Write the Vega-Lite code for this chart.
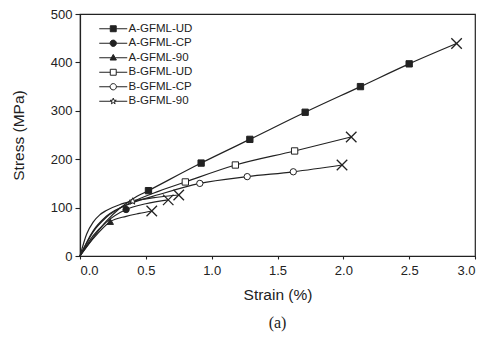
{
  "$schema": "https://vega.github.io/schema/vega-lite/v6.json",
  "width": 395,
  "height": 242,
  "autosize": {"type": "none"},
  "padding": {"left": 80, "top": 14, "right": 16, "bottom": 83},
  "background": "white",
  "config": {
    "view": {"stroke": "#222", "strokeWidth": 1.2},
    "font": "Liberation Sans",
    "axis": {"domainColor": "#222", "tickColor": "#222", "labelColor": "#222", "titleColor": "#222", "grid": false, "labelFontSize": 13, "titleFontSize": 15.5, "titleFontWeight": "normal", "domainWidth": 1.2, "tickWidth": 1.1},
    "legend": {"padding": 0, "rowPadding": 1.5, "labelFontSize": 11.5, "labelColor": "#222", "title": null}
  },
  "title": {"text": "(a)", "orient": "bottom", "font": "Liberation Serif", "fontSize": 16, "fontWeight": "normal", "color": "#222", "offset": 12},
  "datasets": {
    "curves": [
      {"series": "A-GFML-UD", "strain": 0, "stress": 0},
      {"series": "A-GFML-UD", "strain": 0.1, "stress": 38},
      {"series": "A-GFML-UD", "strain": 0.2, "stress": 72},
      {"series": "A-GFML-UD", "strain": 0.3, "stress": 98},
      {"series": "A-GFML-UD", "strain": 0.4, "stress": 118},
      {"series": "A-GFML-UD", "strain": 0.52, "stress": 135},
      {"series": "A-GFML-UD", "strain": 0.92, "stress": 192},
      {"series": "A-GFML-UD", "strain": 1.29, "stress": 241},
      {"series": "A-GFML-UD", "strain": 1.71, "stress": 297},
      {"series": "A-GFML-UD", "strain": 2.13, "stress": 350},
      {"series": "A-GFML-UD", "strain": 2.5, "stress": 397},
      {"series": "A-GFML-UD", "strain": 2.86, "stress": 439},
      {"series": "A-GFML-CP", "strain": 0, "stress": 0},
      {"series": "A-GFML-CP", "strain": 0.1, "stress": 42},
      {"series": "A-GFML-CP", "strain": 0.2, "stress": 70},
      {"series": "A-GFML-CP", "strain": 0.35, "stress": 96},
      {"series": "A-GFML-CP", "strain": 0.5, "stress": 108},
      {"series": "A-GFML-CP", "strain": 0.67, "stress": 116},
      {"series": "A-GFML-90", "strain": 0, "stress": 0},
      {"series": "A-GFML-90", "strain": 0.1, "stress": 36},
      {"series": "A-GFML-90", "strain": 0.23, "stress": 71},
      {"series": "A-GFML-90", "strain": 0.35, "stress": 82},
      {"series": "A-GFML-90", "strain": 0.45, "stress": 88},
      {"series": "A-GFML-90", "strain": 0.545, "stress": 93},
      {"series": "B-GFML-UD", "strain": 0, "stress": 0},
      {"series": "B-GFML-UD", "strain": 0.1, "stress": 50},
      {"series": "B-GFML-UD", "strain": 0.2, "stress": 80},
      {"series": "B-GFML-UD", "strain": 0.4, "stress": 112},
      {"series": "B-GFML-UD", "strain": 0.6, "stress": 134},
      {"series": "B-GFML-UD", "strain": 0.8, "stress": 153},
      {"series": "B-GFML-UD", "strain": 1.18, "stress": 188},
      {"series": "B-GFML-UD", "strain": 1.63, "stress": 217},
      {"series": "B-GFML-UD", "strain": 2.06, "stress": 246},
      {"series": "B-GFML-CP", "strain": 0, "stress": 0},
      {"series": "B-GFML-CP", "strain": 0.1, "stress": 52},
      {"series": "B-GFML-CP", "strain": 0.2, "stress": 82},
      {"series": "B-GFML-CP", "strain": 0.4, "stress": 110},
      {"series": "B-GFML-CP", "strain": 0.6, "stress": 127},
      {"series": "B-GFML-CP", "strain": 0.91, "stress": 150},
      {"series": "B-GFML-CP", "strain": 1.27, "stress": 164},
      {"series": "B-GFML-CP", "strain": 1.62, "stress": 174},
      {"series": "B-GFML-CP", "strain": 1.99, "stress": 188},
      {"series": "B-GFML-90", "strain": 0, "stress": 0},
      {"series": "B-GFML-90", "strain": 0.05, "stress": 45},
      {"series": "B-GFML-90", "strain": 0.1, "stress": 70},
      {"series": "B-GFML-90", "strain": 0.15, "stress": 85},
      {"series": "B-GFML-90", "strain": 0.2, "stress": 94},
      {"series": "B-GFML-90", "strain": 0.3, "stress": 106},
      {"series": "B-GFML-90", "strain": 0.4, "stress": 113},
      {"series": "B-GFML-90", "strain": 0.55, "stress": 120},
      {"series": "B-GFML-90", "strain": 0.75, "stress": 126}
    ],
    "symbols": [
      {"series": "A-GFML-UD", "strain": 0.52, "stress": 135},
      {"series": "A-GFML-UD", "strain": 0.92, "stress": 192},
      {"series": "A-GFML-UD", "strain": 1.29, "stress": 241},
      {"series": "A-GFML-UD", "strain": 1.71, "stress": 297},
      {"series": "A-GFML-UD", "strain": 2.13, "stress": 350},
      {"series": "A-GFML-UD", "strain": 2.5, "stress": 397},
      {"series": "A-GFML-CP", "strain": 0.35, "stress": 96},
      {"series": "A-GFML-90", "strain": 0.23, "stress": 71},
      {"series": "B-GFML-UD", "strain": 0.8, "stress": 153},
      {"series": "B-GFML-UD", "strain": 1.18, "stress": 188},
      {"series": "B-GFML-UD", "strain": 1.63, "stress": 217},
      {"series": "B-GFML-CP", "strain": 0.91, "stress": 150},
      {"series": "B-GFML-CP", "strain": 1.27, "stress": 164},
      {"series": "B-GFML-CP", "strain": 1.62, "stress": 174},
      {"series": "B-GFML-90", "strain": 0.4, "stress": 113}
    ],
    "failure": [
      {"series": "A-GFML-UD", "strain": 2.86, "stress": 439},
      {"series": "A-GFML-CP", "strain": 0.67, "stress": 116},
      {"series": "A-GFML-90", "strain": 0.545, "stress": 93},
      {"series": "B-GFML-UD", "strain": 2.06, "stress": 246},
      {"series": "B-GFML-CP", "strain": 1.99, "stress": 188},
      {"series": "B-GFML-90", "strain": 0.75, "stress": 126}
    ]
  },
  "encoding": {
    "x": {"field": "strain", "type": "quantitative", "scale": {"domain": [0, 3], "nice": false}, "axis": {"title": "Strain (%)", "values": [0, 0.5, 1, 1.5, 2, 2.5, 3], "format": ".1f", "tickSize": 3, "labelPadding": 5, "titlePadding": 10}},
    "y": {"field": "stress", "type": "quantitative", "scale": {"domain": [0, 500], "nice": false}, "axis": {"title": "Stress (MPa)", "values": [0, 100, 200, 300, 400, 500], "tickSize": 5, "labelPadding": 3, "titlePadding": 24}},
    "fill": {"field": "series", "type": "nominal", "scale": {"domain": ["A-GFML-UD", "A-GFML-CP", "A-GFML-90", "B-GFML-UD", "B-GFML-CP", "B-GFML-90"], "range": ["#222", "#222", "#222", "white", "white", "white"]}, "legend": {"orient": "none", "legendX": 27.5, "legendY": 9, "symbolSize": 49, "labelOffset": 9.5, "symbolStrokeColor": "#222", "symbolStrokeWidth": 1}}
  },
  "layer": [
    {
      "data": {"name": "curves"},
      "mark": {"type": "line", "color": "#222", "strokeWidth": 1.2, "interpolate": "monotone"},
      "encoding": {"detail": {"field": "series"}, "fill": null}
    },
    {
      "data": {"name": "failure"},
      "mark": {"type": "point", "shape": "M-1,-1L1,1M1,-1L-1,1", "filled": false, "stroke": "#222", "strokeWidth": 1.3, "size": 110, "opacity": 1},
      "encoding": {"fill": null}
    },
    {
      "data": {"name": "symbols"},
      "transform": [{"filter": {"field": "series", "oneOf": ["A-GFML-UD", "B-GFML-UD"]}}],
      "mark": {"type": "point", "shape": "square", "size": 40, "filled": false, "stroke": "#222", "strokeWidth": 1, "opacity": 1}
    },
    {
      "data": {"name": "symbols"},
      "transform": [{"filter": {"field": "series", "oneOf": ["A-GFML-CP", "B-GFML-CP"]}}],
      "mark": {"type": "point", "shape": "circle", "size": 40, "filled": false, "stroke": "#222", "strokeWidth": 1, "opacity": 1}
    },
    {
      "data": {"name": "symbols"},
      "transform": [{"filter": {"field": "series", "oneOf": ["A-GFML-90"]}}],
      "mark": {"type": "point", "shape": "triangle-up", "size": 40, "filled": false, "stroke": "#222", "strokeWidth": 1, "opacity": 1}
    },
    {
      "data": {"name": "symbols"},
      "transform": [{"filter": {"field": "series", "oneOf": ["B-GFML-90"]}}],
      "mark": {"type": "point", "shape": "M0,-1L0.235,-0.324L0.951,-0.309L0.380,0.124L0.588,0.809L0,0.4L-0.588,0.809L-0.380,0.124L-0.951,-0.309L-0.235,-0.324Z", "size": 50, "filled": false, "stroke": "#222", "strokeWidth": 1, "opacity": 1}
    },
    {
      "data": {"name": "symbols"},
      "mark": {"type": "point", "size": 0, "filled": false, "stroke": "#222", "strokeWidth": 1, "opacity": 1},
      "encoding": {
        "shape": {"field": "series", "type": "nominal", "scale": {"domain": ["A-GFML-UD", "A-GFML-CP", "A-GFML-90", "B-GFML-UD", "B-GFML-CP", "B-GFML-90"], "range": [
          "M-4,0H-0.85M0.85,0H4M-0.85,-0.85H0.85V0.85H-0.85Z",
          "M-4,0H-0.9M0.9,0H4M0.9,0A0.9,0.9 0 1 1 -0.9,0A0.9,0.9 0 1 1 0.9,0Z",
          "M-4,0H-0.55M0.55,0H4M0,-0.95L0.9,0.65H-0.9Z",
          "M-4,0H-0.85M0.85,0H4M-0.85,-0.85H0.85V0.85H-0.85Z",
          "M-4,0H-0.9M0.9,0H4M0.9,0A0.9,0.9 0 1 1 -0.9,0A0.9,0.9 0 1 1 0.9,0Z",
          "M-4,0H-0.4M0.4,0H4M0,-0.9L0.21,-0.29L0.86,-0.28L0.34,0.11L0.53,0.73L0,0.36L-0.53,0.73L-0.34,0.11L-0.86,-0.28L-0.21,-0.29Z"
        ]}, "legend": {"orient": "none", "legendX": 27.5, "legendY": 9, "symbolSize": 49, "labelOffset": 9.5, "symbolStrokeColor": "#222", "symbolStrokeWidth": 1}}
      }
    }
  ]
}
